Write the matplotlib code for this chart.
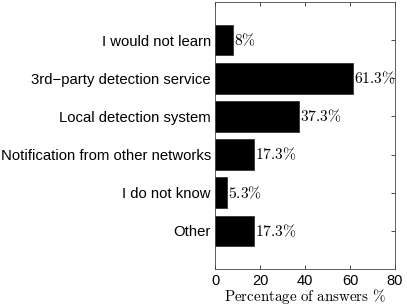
import matplotlib
matplotlib.use("Agg")
import matplotlib.pyplot as plt

categories = ["I would not learn", "3rd\u2212party detection service", "Local detection system",
              "Notification from other networks", "I do not know", "Other"]
values = [8, 61.3, 37.3, 17.3, 5.3, 17.3]
value_labels = ["8", "61.3", "37.3", "17.3", "5.3", "17.3"]
xticks = [0, 20, 40, 60, 80]

plt.rcParams['mathtext.fontset'] = 'cm'
plt.rcParams['font.family'] = ['Liberation Sans', 'DejaVu Sans']

fig = plt.figure(figsize=(4.07, 3.06), dpi=100)
ax = fig.add_axes([215/407, 1-269/306, (395-215)/407, (269-2)/306])

n = len(categories)
ypos = list(range(1, n+1))
ax.barh(ypos, values, height=0.8, color='black', edgecolor='#333333', linewidth=0.6)
for y, v, lab in zip(ypos, values, value_labels):
    ax.text(v + 0.4, y, r"$%s\%%$" % lab, va='center', ha='left', fontsize=11.2)

ax.set_ylim(n + 1, 0)
ax.set_xlim(0, 80)
ax.set_yticks(ypos)
ax.set_yticklabels(categories, fontsize=10.7)
ax.set_xticks(xticks)
ax.set_xticklabels([str(t) for t in xticks], fontsize=10.5)
ax.tick_params(direction='in', top=True, right=True, length=3, width=0.5)
ax.tick_params(axis='x', pad=3.5)
ax.tick_params(axis='y', pad=3)
for s in ax.spines.values():
    s.set_linewidth(0.6)
    s.set_color('#444444')
ax.set_xlabel(r"$\mathrm{Percentage\ of\ answers\ \%}$", fontsize=10.8, labelpad=-0.5)

fig.savefig("out.png", dpi=100)
